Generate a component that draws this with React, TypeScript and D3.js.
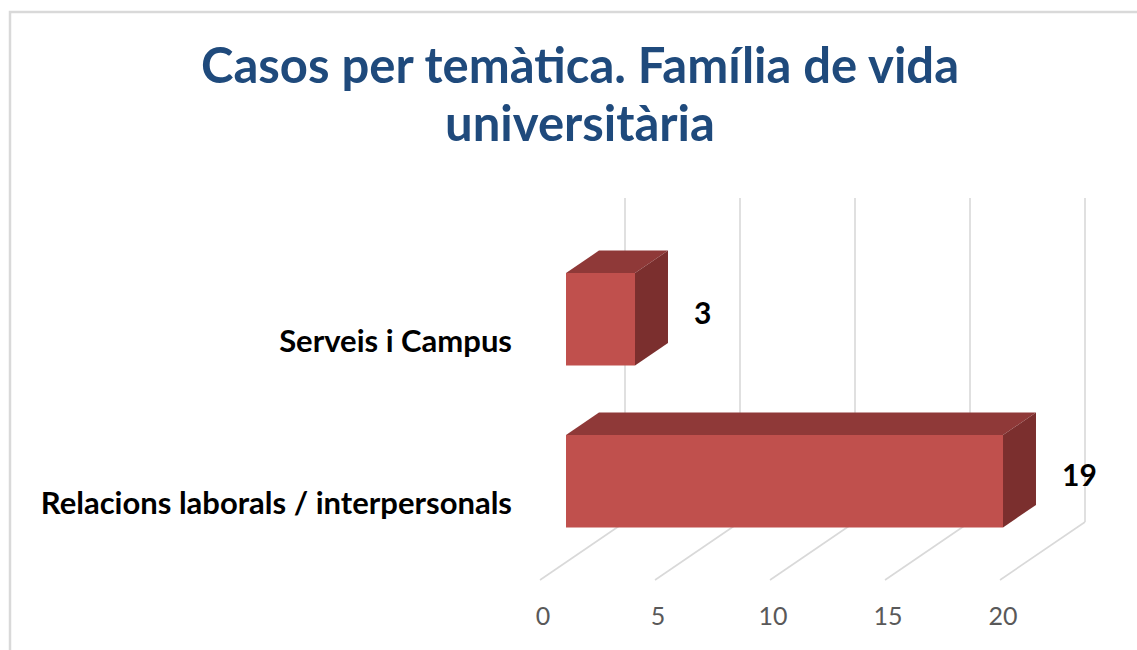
import * as d3 from "d3";
import React from "react";

const categories = ["Serveis i Campus", "Relacions laborals / interpersonals"];
const values = [3, 19];
const tickValues = [0, 5, 10, 15, 20];
const titleLines = ["Casos per temàtica. Família de vida", "universitària"];

const width = 1137;
const height = 650;

// 3D box: front floor edge, depth offset to back wall
const depthX = 85;
const depthY = -58;
const barFront = 0.306;
const barBack = 0.694;

export default function App() {
  const x = d3.scaleLinear().domain([0, 20]).range([540, 1000]);
  // category band on the front plane
  const y = d3
    .scaleBand<string>()
    .domain(categories)
    .range([256, 580])
    .paddingInner(0.43)
    .paddingOuter(0.215);

  const floorY = 580;
  const wallTop = 256 + depthY;
  const wallBottom = floorY + depthY;

  const p = (px: number, py: number, s: number) =>
    `${px + depthX * s},${py + depthY * s}`;

  return (
    <svg
      width={width}
      height={height}
      style={{ position: "absolute", left: 0, top: 0, background: "#fff" }}
    >
      <rect
        x={10}
        y={12}
        width={1140}
        height={660}
        fill="#fff"
        stroke="#D9D9D9"
        strokeWidth={2.5}
      />

      <g fontFamily="Lato" fontWeight="bold" fill="#1F4A7C" fontSize={49} textAnchor="middle">
        {titleLines.map((t, i) => (
          <text key={i} x={580} y={83 + i * 58}>
            {t}
          </text>
        ))}
      </g>

      {/* back wall gridlines */}
      <g stroke="#D9D9D9" strokeWidth={1.6}>
        {tickValues.map((v) => (
          <line
            key={"w" + v}
            x1={x(v) + depthX}
            x2={x(v) + depthX}
            y1={wallTop}
            y2={wallBottom}
          />
        ))}
        {tickValues.map((v) => (
          <line
            key={"f" + v}
            x1={x(v)}
            y1={floorY}
            x2={x(v) + depthX}
            y2={wallBottom}
          />
        ))}
      </g>

      {/* bars */}
      {categories.map((c, i) => {
        const y0 = y(c)!;
        const y1 = y0 + y.bandwidth();
        const x0 = x(0);
        const x1 = x(values[i]);
        return (
          <g key={c}>
            <polygon
              points={[p(x0, y0, barFront), p(x0, y0, barBack), p(x1, y0, barBack), p(x1, y0, barFront)].join(" ")}
              fill="#8F3938"
            />
            <polygon
              points={[p(x1, y0, barFront), p(x1, y0, barBack), p(x1, y1, barBack), p(x1, y1, barFront)].join(" ")}
              fill="#7B2F2E"
            />
            <polygon
              points={[p(x0, y0, barFront), p(x1, y0, barFront), p(x1, y1, barFront), p(x0, y1, barFront)].join(" ")}
              fill="#C0504D"
            />
          </g>
        );
      })}

      {/* data labels */}
      <g fontFamily="Lato" fontWeight="bold" fontSize={30} fill="#000">
        {categories.map((c, i) => (
          <text
            key={c}
            x={x(values[i]) + depthX * barBack + 26}
            y={y(c)! + y.bandwidth() / 2 + depthY * 0.5 + 3.5}
            dominantBaseline="central"
          >
            {values[i]}
          </text>
        ))}
      </g>

      {/* category labels */}
      <g fontFamily="Lato" fontWeight="bold" fontSize={31} fill="#000" textAnchor="end">
        {categories.map((c) => (
          <text key={c} x={512} y={y(c)! + y.bandwidth() / 2 + 3} dominantBaseline="central">
            {c}
          </text>
        ))}
      </g>

      {/* value axis labels */}
      <g fontFamily="Lato" fontSize={25} fill="#595959" textAnchor="middle">
        {tickValues.map((v) => (
          <text key={v} x={x(v) + 3} y={615} dominantBaseline="central">
            {v}
          </text>
        ))}
      </g>
    </svg>
  );
}
